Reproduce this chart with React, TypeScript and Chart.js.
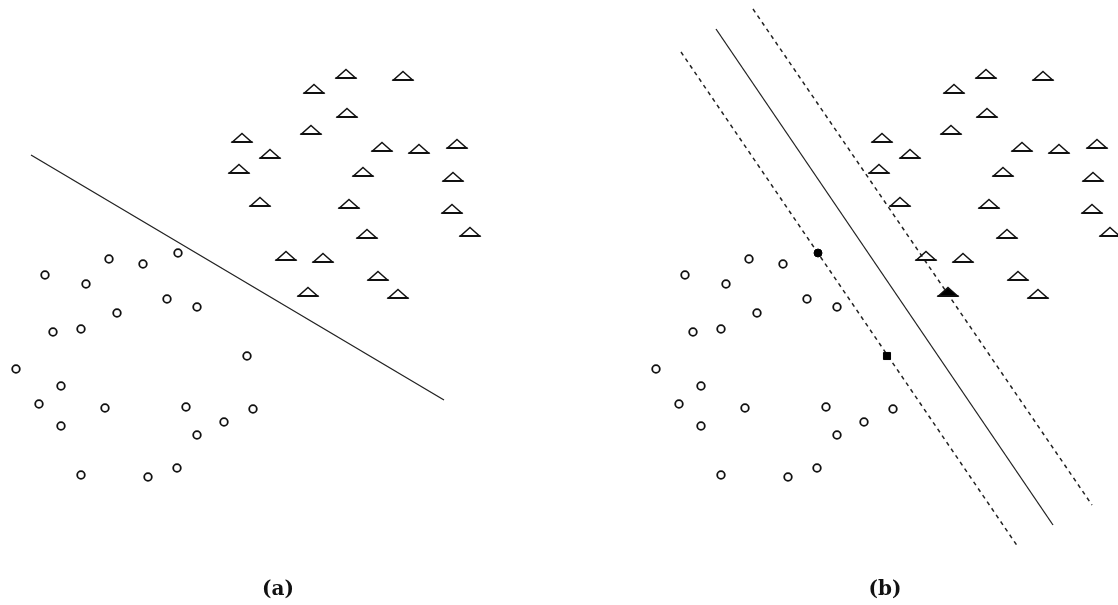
import React, { useEffect, useRef } from "react";
import { Chart, registerables } from "chart.js";

Chart.register(...registerables);

// Feature-space coordinates (x1, x2) of the two classes
const circleX1 = [4.5, 8.6, 10.9, 14.3, 17.8, 16.7, 19.7, 11.7, 5.3, 8.1, 24.7, 1.6, 6.1, 3.9, 10.5, 18.6, 25.3, 22.4, 6.1, 19.7, 8.1, 14.8, 17.7];
const circleX2 = [32.5, 31.6, 34.1, 33.6, 34.7, 30.1, 29.3, 28.7, 26.8, 27.1, 24.4, 23.1, 21.4, 19.6, 19.2, 19.3, 19.1, 17.8, 17.4, 16.5, 12.5, 12.3, 13.2];

const triangleX1 = [34.6, 40.3, 31.4, 34.7, 31.1, 24.2, 27.0, 23.9, 38.2, 41.9, 45.7, 36.3, 45.3, 26.0, 34.9, 45.2, 36.7, 47.0, 28.6, 32.3, 37.8, 30.8, 39.8];
const triangleX2 = [52.6, 52.4, 51.1, 48.7, 47.0, 46.2, 44.6, 43.1, 45.3, 45.1, 45.6, 42.8, 42.3, 39.8, 39.6, 39.1, 36.6, 36.8, 34.4, 34.2, 32.4, 30.8, 30.6];

// Support vectors (indices into the class arrays) shown filled in panel (b)
const supportCircleIdx = [4];
const supportSquareIdx = [10];
const supportTriangleIdx = [21];

// Separating lines (two end points each)
const boundaryAX1 = [3.1, 44.4];
const boundaryAX2 = [44.5, 20.0];
const hyperplaneX1 = [7.6, 41.3];
const hyperplaneX2 = [57.1, 7.5];
const marginLowX1 = [4.1, 37.8];
const marginLowX2 = [54.8, 5.3];
const marginHighX1 = [11.3, 45.2];
const marginHighX2 = [59.1, 9.5];

const panelLabels = ["(a)", "(b)"];

const PX_PER_UNIT = 10;
const CANVAS_H = 605;
const Y_MAX = 60;

function pts(xs: number[], ys: number[], keep?: (i: number) => boolean) {
  const out: { x: number; y: number }[] = [];
  xs.forEach((x, i) => {
    if (!keep || keep(i)) out.push({ x, y: ys[i] });
  });
  return out;
}

function makeTriangle(filled: boolean) {
  const c = document.createElement("canvas");
  c.width = 24;
  c.height = 12;
  const ctx = c.getContext("2d")!;
  ctx.beginPath();
  ctx.moveTo(12, 1.5);
  ctx.lineTo(21.5, 10);
  ctx.lineTo(2.5, 10);
  ctx.closePath();
  if (filled) {
    ctx.fillStyle = "#000";
    ctx.fill();
  }
  ctx.lineWidth = 1.5;
  ctx.strokeStyle = "#111";
  ctx.stroke();
  ctx.beginPath();
  ctx.moveTo(1.5, 10);
  ctx.lineTo(22.5, 10);
  ctx.lineWidth = 2;
  ctx.stroke();
  return c;
}

function lineDs(xs: number[], ys: number[], dashed: boolean) {
  return {
    type: "line" as const,
    data: pts(xs, ys),
    showLine: true,
    borderColor: dashed ? "#222" : "#222",
    borderWidth: dashed ? 1.5 : 1.3,
    borderDash: dashed ? [4, 4] : [],
    pointRadius: 0,
    fill: false,
    clip: false as any,
  };
}

function Panel({ width, left, svm, label }: { width: number; left: number; svm: boolean; label: string }) {
  const ref = useRef<HTMLCanvasElement>(null);
  useEffect(() => {
    if (!ref.current) return;
    const triOpen = makeTriangle(false);
    const triFilled = makeTriangle(true);
    const isSV = (arr: number[]) => (i: number) => svm && arr.includes(i);
    const circleSV = [...supportCircleIdx, ...supportSquareIdx];
    const datasets: any[] = [
      {
        data: pts(circleX1, circleX2, (i) => !(svm && circleSV.includes(i))),
        pointStyle: "circle",
        pointRadius: 3.8,
        borderWidth: 1.8,
        borderColor: "#111",
        backgroundColor: "#fff",
        clip: false,
      },
      {
        data: pts(triangleX1, triangleX2, (i) => !(svm && supportTriangleIdx.includes(i))),
        pointStyle: triOpen,
        pointRadius: 6,
        clip: false,
      },
    ];
    if (svm) {
      datasets.push(
        {
          data: pts(circleX1, circleX2, isSV(supportCircleIdx)),
          pointStyle: "circle",
          pointRadius: 4,
          borderWidth: 1,
          borderColor: "#000",
          backgroundColor: "#000",
          clip: false,
        },
        {
          data: pts(circleX1, circleX2, isSV(supportSquareIdx)),
          pointStyle: "rect",
          pointRadius: 5,
          borderWidth: 1,
          borderColor: "#000",
          backgroundColor: "#000",
          clip: false,
        },
        {
          data: pts(triangleX1, triangleX2, isSV(supportTriangleIdx)),
          pointStyle: triFilled,
          pointRadius: 6,
          clip: false,
        },
        lineDs(hyperplaneX1, hyperplaneX2, false),
        lineDs(marginLowX1, marginLowX2, true),
        lineDs(marginHighX1, marginHighX2, true)
      );
    } else {
      datasets.push(lineDs(boundaryAX1, boundaryAX2, false));
    }
    const chart = new Chart(ref.current, {
      type: "scatter",
      data: { datasets },
      options: {
        animation: false,
        responsive: false,
        events: [],
        layout: { padding: 0, autoPadding: false },
        plugins: { legend: { display: false }, tooltip: { enabled: false }, title: { display: false } },
        scales: {
          x: { type: "linear", display: false, min: 0, max: width / PX_PER_UNIT },
          y: { type: "linear", display: false, min: Y_MAX - CANVAS_H / PX_PER_UNIT, max: Y_MAX },
        },
      },
    });
    return () => chart.destroy();
  }, [width, svm]);
  return (
    <>
      <canvas
        ref={ref}
        width={width}
        height={CANVAS_H}
        style={{ position: "absolute", left, top: 0, width, height: CANVAS_H, display: "block" }}
      />
      <div
        style={{
          position: "absolute",
          left: left + (svm ? 245 : 278) - 40,
          width: 80,
          top: 575,
          textAlign: "center",
          fontFamily: "'DejaVu Serif', serif",
          fontWeight: "bold",
          fontSize: 20,
          lineHeight: "26px",
          color: "#111",
        }}
      >
        {label}
      </div>
    </>
  );
}

export default function App() {
  return (
    <div style={{ position: "absolute", left: 0, top: 0, width: 1118, height: 605, background: "#fff", overflow: "hidden" }}>
      <Panel width={520} left={0} svm={false} label={panelLabels[0]} />
      <Panel width={478} left={640} svm={true} label={panelLabels[1]} />
    </div>
  );
}
